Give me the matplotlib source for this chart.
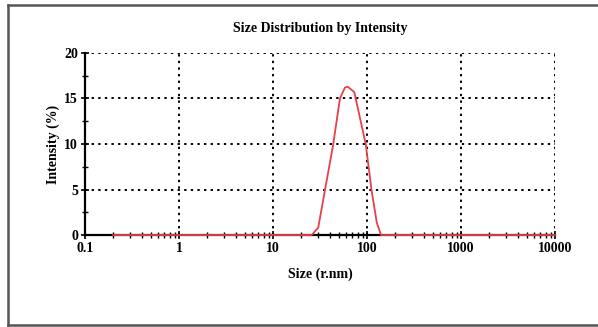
import matplotlib.pyplot as plt
from matplotlib.lines import Line2D
from matplotlib.ticker import LogLocator, FixedLocator, NullFormatter

# Size distribution by intensity (hydrodynamic radius, nm)
size_nm = [0.2, 20, 25.8, 30.3, 35.7, 43.8, 51.6, 58.3, 62.3, 73.3, 97, 112, 127, 141, 160, 10000]
intensity = [0, 0, 0, 0.8, 4.9, 10, 15, 16.2, 16.3, 15.7, 10, 4.9, 1.4, 0, 0, 0]

x_ticks = [0.1, 1, 10, 100, 1000, 10000]
x_labels = ['0.1', '1', '10', '100', '1000', '10000']
y_ticks = [0, 5, 10, 15, 20]

plt.rcParams['font.family'] = ['Liberation Serif', 'DejaVu Serif']
plt.rcParams['font.weight'] = 'bold'

fig = plt.figure(figsize=(5.98, 3.27), dpi=100)
ax = fig.add_axes([0.1421, 0.2813, 0.928 - 0.1421, 0.838 - 0.2813])

ax.plot(size_nm, intensity, color='#e8404a', lw=1.3, zorder=3, clip_on=False)

ax.set_xscale('log')
ax.set_xlim(0.1, 10000)
ax.set_ylim(0, 20)

ax.xaxis.set_major_locator(FixedLocator(x_ticks))
ax.set_xticklabels(x_labels)
ax.xaxis.set_minor_locator(LogLocator(base=10, subs=range(2, 10), numticks=20))
ax.xaxis.set_minor_formatter(NullFormatter())
ax.yaxis.set_major_locator(FixedLocator(y_ticks))
ax.yaxis.set_minor_locator(FixedLocator([2.5, 7.5, 12.5, 17.5]))

ax.grid(True, which='major', color='black', linestyle=(0, (1.2, 2.2)), lw=1.4)
ax.spines['top'].set_visible(False)
ax.spines['right'].set_visible(False)
ax.spines['left'].set_linewidth(1.6)
ax.spines['bottom'].set_linewidth(1.6)

ax.tick_params(which='major', direction='inout', length=6, width=1.2, labelsize=10, pad=2)
ax.tick_params(which='minor', direction='inout', length=5, width=1.0)

ax.set_title('Size Distribution by Intensity', fontsize=10, fontweight='bold', pad=15)
ax.set_xlabel('Size (r.nm)', fontsize=10, fontweight='bold', labelpad=9)
ax.set_ylabel('Intensity (%)', fontsize=10, fontweight='bold', labelpad=3)

# outer frame
frame = dict(color='#555555', lw=1.8, transform=fig.transFigure)
fig.add_artist(Line2D([0.0134, 1.0], [0.985, 0.985], **frame))
fig.add_artist(Line2D([0.0134, 0.0134], [0.006, 0.985], **frame))
fig.add_artist(Line2D([0.0134, 1.0], [0.006, 0.006], **frame))

fig.savefig('out.png', dpi=100)
